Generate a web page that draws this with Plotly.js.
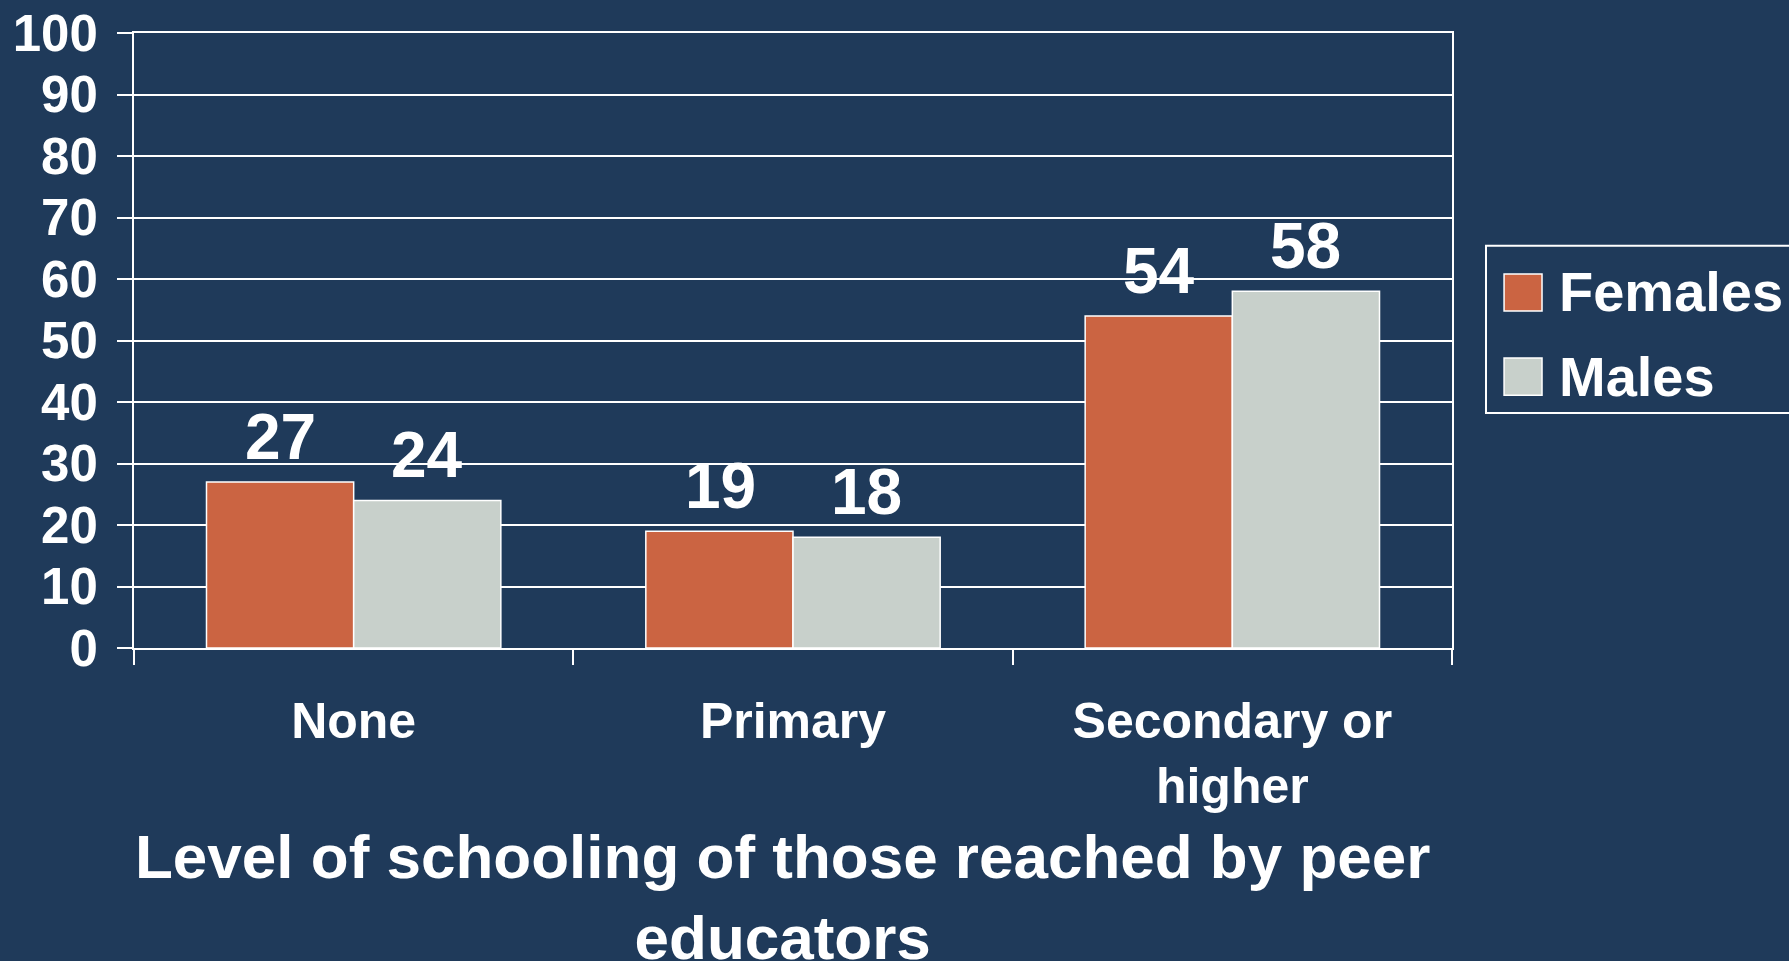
<!DOCTYPE html>
<html>
<head>
<meta charset="utf-8">
<script src="https://cdn.plot.ly/plotly-3.0.1.min.js"></script>
<style>
  html, body { margin: 0; padding: 0; background: #1F3A5A; }
  #chart { width: 1789px; height: 961px; }
</style>
</head>
<body>
<div id="chart"></div>
<script>
// Data
const categories = ["None", "Primary", "Secondary or<br>higher"];
const seriesNames = ["Females", "Males"];
const females = [27, 19, 54];
const males = [24, 18, 58];
const yTicks = [0, 10, 20, 30, 40, 50, 60, 70, 80, 90, 100];
const xTitle = "Level of schooling of those reached by peer<br>educators";

const colors = ["#CB6442", "#C8D0CB"];
const bg = "#1F3A5A";
const FONT = "Liberation Sans, Arial, Helvetica, sans-serif";

const traces = [females, males].map((vals, i) => ({
  type: "bar",
  name: seriesNames[i],
  x: categories,
  y: vals,
  marker: { color: colors[i], line: { color: "#FFFFFF", width: 1.5 } },
  showlegend: false,
  hoverinfo: "x+y+name"
}));

// Data labels
const annotations = [];
const shiftPx = 73;
[females, males].forEach((vals, i) => {
  vals.forEach((v, j) => {
    annotations.push({
      x: categories[j], y: v, xref: "x", yref: "y",
      xshift: i === 0 ? -shiftPx : shiftPx, yshift: 7,
      yanchor: "bottom", showarrow: false,
      text: String(v),
      font: { family: FONT, size: 64, color: "#FFFFFF", weight: 700 }
    });
  });
});

// Axis title (placed below the category labels)
annotations.push({
  xref: "paper", yref: "paper", x: 0.4917, y: -0.4045,
  xanchor: "center", yanchor: "middle", showarrow: false,
  text: xTitle, align: "center",
  font: { family: FONT, size: 62, color: "#FFFFFF", weight: 700 }
});

// Legend drawn with shapes + text (paper coordinates)
const shapes = [
  { type: "rect", xref: "paper", yref: "paper", x0: 1.0258, x1: 1.30, y0: 0.382, y1: 0.654,
    line: { color: "#FFFFFF", width: 2 }, fillcolor: "rgba(0,0,0,0)", layer: "above" },
  { type: "rect", xref: "paper", yref: "paper", x0: 1.0395, x1: 1.0683, y0: 0.548, y1: 0.608,
    line: { color: "#FFFFFF", width: 1.5 }, fillcolor: colors[0] },
  { type: "rect", xref: "paper", yref: "paper", x0: 1.0395, x1: 1.0683, y0: 0.411, y1: 0.4715,
    line: { color: "#FFFFFF", width: 1.5 }, fillcolor: colors[1] }
];
annotations.push(
  { xref: "paper", yref: "paper", x: 1.080, y: 0.579, xanchor: "left", yanchor: "middle",
    showarrow: false, text: seriesNames[0],
    font: { family: FONT, size: 56, color: "#FFFFFF", weight: 700 } },
  { xref: "paper", yref: "paper", x: 1.080, y: 0.441, xanchor: "left", yanchor: "middle",
    showarrow: false, text: seriesNames[1],
    font: { family: FONT, size: 56, color: "#FFFFFF", weight: 700 } }
);

const layout = {
  width: 1789, height: 961,
  paper_bgcolor: bg, plot_bgcolor: bg,
  margin: { l: 134, r: 337, t: 33, b: 313 },
  barmode: "group", bargap: 0.33, bargroupgap: 0,
  showlegend: false,
  font: { family: FONT, color: "#FFFFFF", weight: 700 },
  xaxis: {
    type: "category",
    tickson: "boundaries",
    ticks: "outside", ticklen: 15, tickwidth: 2, tickcolor: "#FFFFFF",
    showline: true, linecolor: "#FFFFFF", linewidth: 2, mirror: true,
    showgrid: false, zeroline: false,
    ticklabelstandoff: 28,
    tickfont: { family: FONT, size: 50, color: "#FFFFFF", weight: 700 }
  },
  yaxis: {
    range: [0, 100],
    tickvals: yTicks,
    ticktext: yTicks.map(String),
    ticks: "outside", ticklen: 15, tickwidth: 2, tickcolor: "#FFFFFF",
    showline: true, linecolor: "#FFFFFF", linewidth: 2, mirror: true,
    showgrid: true, gridcolor: "#FFFFFF", gridwidth: 2,
    zeroline: false,
    ticklabelstandoff: 9,
    tickfont: { family: FONT, size: 51, color: "#FFFFFF", weight: 700 }
  },
  annotations: annotations,
  shapes: shapes
};

Plotly.newPlot("chart", traces, layout, { staticPlot: true, displayModeBar: false });
</script>
</body>
</html>
